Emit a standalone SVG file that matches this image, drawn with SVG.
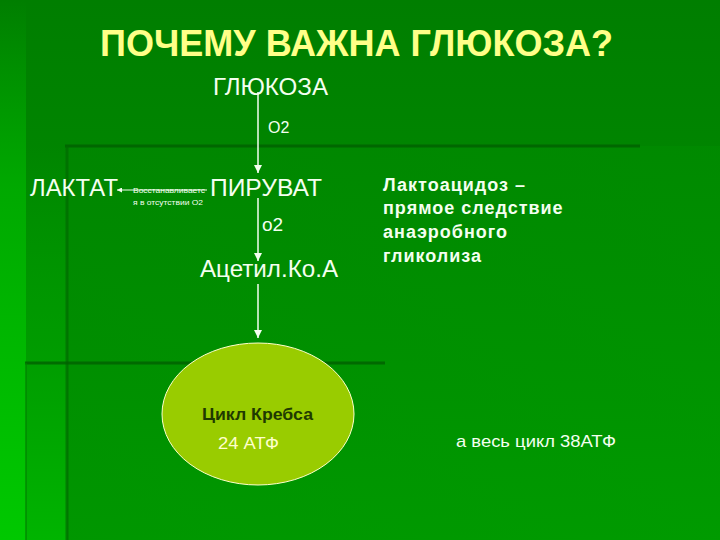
<svg xmlns="http://www.w3.org/2000/svg" width="720" height="540" viewBox="0 0 720 540">
  <defs>
    <linearGradient id="bg" x1="0" y1="0" x2="0" y2="1">
      <stop offset="0" stop-color="#007e00"/>
      <stop offset="0.5" stop-color="#008a00"/>
      <stop offset="1" stop-color="#009800"/>
    </linearGradient>
    <linearGradient id="strip1" x1="0" y1="0" x2="0" y2="1">
      <stop offset="0" stop-color="#00c400" stop-opacity="0"/>
      <stop offset="0.35" stop-color="#00c000" stop-opacity="0.6"/>
      <stop offset="1" stop-color="#00c800" stop-opacity="1"/>
    </linearGradient>
    <linearGradient id="strip2" x1="0" y1="0" x2="0" y2="1">
      <stop offset="0" stop-color="#00b000" stop-opacity="0"/>
      <stop offset="0.5" stop-color="#00a800" stop-opacity="0.5"/>
      <stop offset="1" stop-color="#00b400" stop-opacity="1"/>
    </linearGradient>
    <linearGradient id="panel" x1="0" y1="0" x2="1" y2="1">
      <stop offset="0" stop-color="#008800"/>
      <stop offset="1" stop-color="#00a000"/>
    </linearGradient>
    <marker id="arr" viewBox="0 0 10 10" refX="10" refY="5" markerWidth="5" markerHeight="5" orient="auto" markerUnits="userSpaceOnUse">
      <path d="M0,0 L10,5 L0,10 z" fill="#f4fff0"/>
    </marker>
    <marker id="arrs" viewBox="0 0 10 10" refX="10" refY="5" markerWidth="8" markerHeight="8" orient="auto" markerUnits="userSpaceOnUse">
      <path d="M0,0 L10,5 L0,10 z" fill="#f4fff0"/>
    </marker>
    <style>
      .lbl { font-family: "Liberation Sans", Arial, sans-serif; fill: #f4fff0; }
      .big { font-size: 24px; }
      .small { font-size: 8px; }
      .side { font-size: 18px; font-weight: bold; letter-spacing: 1px; }
      .edge { stroke: #f4fff0; stroke-width: 1.5; fill: none; }
    </style>
  </defs>

  <!-- background -->
  <rect x="0" y="0" width="720" height="540" fill="url(#bg)"/>
  <rect x="0" y="0" width="26" height="540" fill="url(#strip1)"/>
  <rect x="26" y="146" width="41" height="394" fill="url(#strip2)"/>
  <rect x="67" y="146" width="653" height="394" fill="url(#panel)" opacity="0.35"/>
  <line x1="65" y1="146" x2="640" y2="146" stroke="#006000" stroke-width="3" opacity="0.8"/>
  <line x1="67" y1="146" x2="67" y2="540" stroke="#006a00" stroke-width="3" opacity="0.7"/>
  <line x1="25" y1="363" x2="385" y2="363" stroke="#006000" stroke-width="3" opacity="0.8"/>
  <line x1="26" y1="363" x2="26" y2="540" stroke="#008000" stroke-width="2" opacity="0.6"/>

  <!-- title -->
  <text x="100" y="56" textLength="513" lengthAdjust="spacingAndGlyphs" font-family="Liberation Sans, Arial, sans-serif" font-size="36" font-weight="bold" fill="#ffff88">ПОЧЕМУ ВАЖНА ГЛЮКОЗА?</text>

  <!-- connectors -->
  <g id="connectors">
    <line class="edge" x1="258" y1="92" x2="258" y2="173" marker-end="url(#arrs)"/>
    <line class="edge" x1="258" y1="198" x2="258" y2="261" marker-end="url(#arrs)"/>
    <line class="edge" x1="258" y1="284" x2="258" y2="338" marker-end="url(#arrs)"/>
    <line x1="207" y1="190" x2="117" y2="190" stroke="#f4fff0" stroke-width="1" marker-end="url(#arr)"/>
  </g>

  <g id="glucose"><text class="lbl big" x="213" y="95" textLength="115" lengthAdjust="spacingAndGlyphs">ГЛЮКОЗА</text></g>
  <g id="o2a"><text class="lbl" x="268" y="133" font-size="16">O2</text></g>
  <g id="pyruvate"><text class="lbl big" x="210" y="196" textLength="112" lengthAdjust="spacingAndGlyphs">ПИРУВАТ</text></g>
  <g id="lactate"><text class="lbl big" x="30" y="196" textLength="88" lengthAdjust="spacingAndGlyphs">ЛАКТАТ</text></g>
  <g id="note-small">
    <text class="lbl small" x="133" y="193" textLength="72" lengthAdjust="spacingAndGlyphs">Восстанавливаетс</text>
    <text class="lbl small" x="133" y="205" textLength="70" lengthAdjust="spacingAndGlyphs">я в отсутствии О2</text>
  </g>
  <g id="o2b"><text class="lbl" x="262" y="231" font-size="19">о2</text></g>
  <g id="acetyl"><text class="lbl big" x="200" y="277" textLength="138" lengthAdjust="spacingAndGlyphs">Ацетил.Ко.А</text></g>

  <g id="krebs">
    <ellipse cx="258" cy="414" rx="96" ry="71" fill="#99cc00" stroke="#ffffcc" stroke-width="1"/>
    <text x="202" y="420" textLength="111" lengthAdjust="spacingAndGlyphs" font-family="Liberation Sans, Arial, sans-serif" font-size="17" font-weight="bold" fill="#1f3a00">Цикл Кребса</text>
    <text x="218" y="449" textLength="61" lengthAdjust="spacingAndGlyphs" font-family="Liberation Sans, Arial, sans-serif" font-size="17" fill="#ffffcc">24 АТФ</text>
  </g>

  <g id="lactoacidosis">
    <text class="lbl side" x="383" y="191">Лактоацидоз –</text>
    <text class="lbl side" x="383" y="214">прямое следствие</text>
    <text class="lbl side" x="383" y="238">анаэробного</text>
    <text class="lbl side" x="383" y="262">гликолиза</text>
  </g>

  <g id="total"><text class="lbl" x="456" y="447" font-size="17" textLength="160" lengthAdjust="spacingAndGlyphs">а весь цикл 38АТФ</text></g>
</svg>
